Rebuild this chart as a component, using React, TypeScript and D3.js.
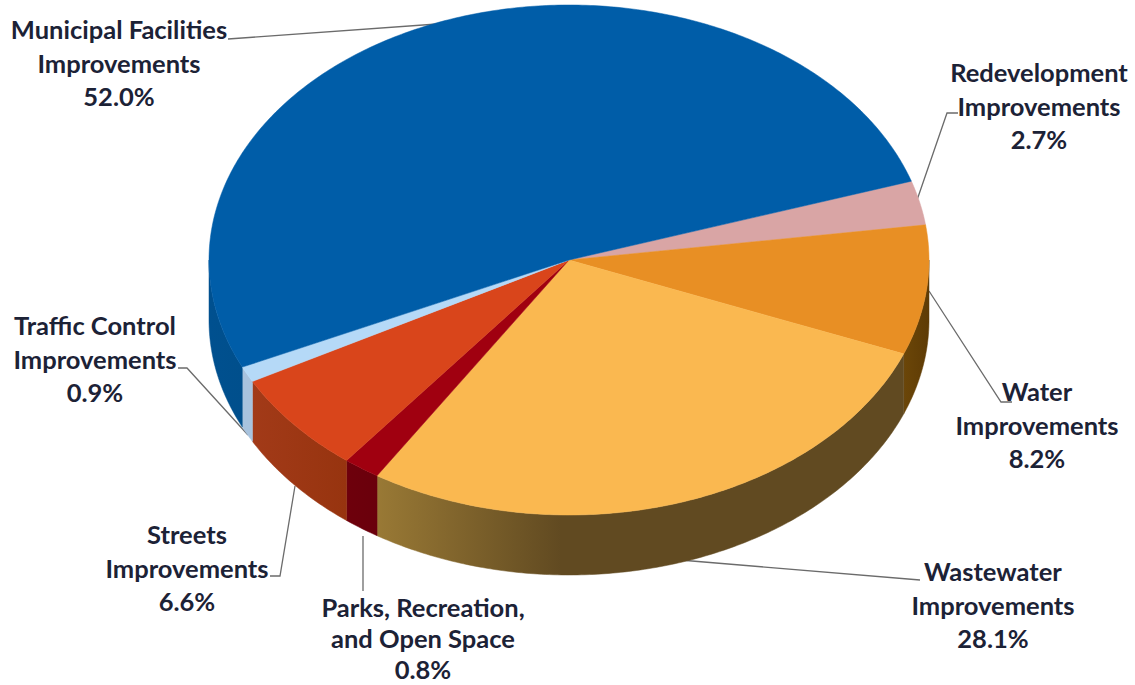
import React from "react";
import * as d3 from "d3";

const categories = ["Redevelopment", "Water", "Wastewater", "Parks", "Streets", "Traffic", "Municipal"];
// slice shares as drawn in the picture (percent of the pie)
const shares = [2.8, 8.2, 27.95, 1.65, 6.5, 1.0, 51.9];
const topColors = ["#d9a5a5", "#e88f24", "#fab850", "#a00010", "#d9451b", "#b5d9f7", "#005da8"];
const sideLeft = ["#9a6c6c", "#6b4608", "#997935", "#6e000c", "#a23a18", "#a8c3de", "#00508f"];
const sideRight = ["#9a6c6c", "#5e3b05", "#614a21", "#6a000c", "#97340f", "#a8c3de", "#004f8c"];

const labelLines = [
  ["Municipal Facilities", "Improvements", "52.0%"],
  ["Redevelopment", "Improvements", "2.7%"],
  ["Water", "Improvements", "8.2%"],
  ["Wastewater", "Improvements", "28.1%"],
  ["Parks, Recreation,", "and Open Space", "0.8%"],
  ["Streets", "Improvements", "6.6%"],
  ["Traffic Control", "Improvements", "0.9%"],
];
const labelAnchorX = [119, 1039, 1037, 993, 423, 187, 95];
const labelBaselineY = [39, 82, 401, 581, 617, 544, 335];
const labelGap = [33.5, 33.5, 33.5, 33.5, 31, 33.5, 33.5];
const leaders = [
  [[228, 39], [437, 24]],
  [[916, 203], [947, 113], [958, 113]],
  [[929, 291], [1001, 402], [1012, 402]],
  [[680, 560], [920, 580]],
  [[363, 536], [363, 591]],
  [[295, 486], [280, 576], [270, 576]],
  [[248, 435], [187, 368], [178, 368]],
];

const W = 1135, H = 685;
const depth = 60;
const x = d3.scaleLinear().domain([-1, 1]).range([209, 929]);
const y = d3.scaleLinear().domain([-1, 1]).range([5, 515]);

const pie = d3.pie<number>().sort(null).startAngle((72 * Math.PI) / 180).endAngle((432 * Math.PI) / 180);
const arcs = pie(shares);
const line = d3.line<[number, number]>().x((d) => d[0]).y((d) => d[1]);
const pt = (a: number, dy = 0): [number, number] => [x(Math.sin(a)), y(-Math.cos(a)) + dy];
const sample = (a0: number, a1: number) => {
  const n = Math.max(2, Math.ceil(Math.abs(a1 - a0) * 90));
  return d3.range(n + 1).map((i) => a0 + ((a1 - a0) * i) / n);
};

export default function App() {
  const sides = arcs
    .map((d, i) => {
      const a0 = Math.max(d.startAngle, Math.PI / 2);
      const a1 = Math.min(d.endAngle, (3 * Math.PI) / 2);
      if (a1 <= a0) return null;
      const s = sample(a0, a1);
      const pts = [...s.map((a) => pt(a)), ...s.slice().reverse().map((a) => pt(a, depth))];
      const xs = pts.map((p) => p[0]);
      return { i, d: line(pts) + "Z", x0: d3.min(xs)!, x1: d3.max(xs)! };
    })
    .filter(Boolean) as { i: number; d: string; x0: number; x1: number }[];

  return (
    <svg width={W} height={H} viewBox={`0 0 ${W} ${H}`} style={{ position: "absolute", left: 0, top: 0, background: "#fff" }}>
      <defs>
        {sides.map((s) => (
          <linearGradient key={s.i} id={`side${s.i}`} gradientUnits="userSpaceOnUse" x1={s.x0} x2={s.x1} y1={0} y2={0}>
            <stop offset="0" stopColor={sideLeft[s.i]} />
            <stop offset={categories[s.i] === "Wastewater" ? 0.35 : 1} stopColor={sideRight[s.i]} />
          </linearGradient>
        ))}
      </defs>
      {leaders.map((l, i) => (
        <path key={i} d={line(l as [number, number][])!} fill="none" stroke="#6b6b6b" strokeWidth={1.3} />
      ))}
      {sides.map((s) => (
        <path key={s.i} d={s.d} fill={`url(#side${s.i})`} stroke={`url(#side${s.i})`} strokeWidth={0.5} />
      ))}
      {arcs.map((d, i) => {
        const pts = [[x(0), y(0)] as [number, number], ...sample(d.startAngle, d.endAngle).map((a) => pt(a))];
        return <path key={i} d={line(pts) + "Z"} fill={topColors[i]} stroke={topColors[i]} strokeWidth={0.5} />;
      })}
      {labelLines.map((lines, i) => (
        <text key={i} textAnchor="middle" fontFamily="Lato" fontWeight={700} fontSize={25.5} fill="#1c2236">
          {lines.map((t, j) => (
            <tspan key={j} x={labelAnchorX[i]} y={labelBaselineY[i] + j * labelGap[i]}>{t}</tspan>
          ))}
        </text>
      ))}
    </svg>
  );
}
